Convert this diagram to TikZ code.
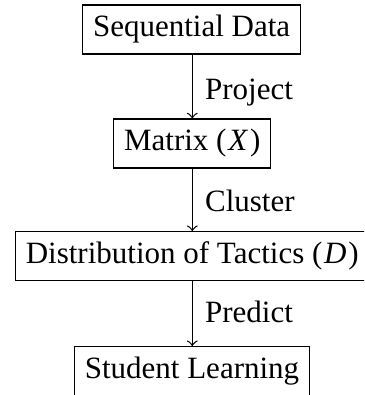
\documentclass[tikz,border=0pt]{standalone}
\usepackage{fontspec}
\setmainfont{Liberation Serif}
\newcommand{\mathvar}[1]{\kern0.6pt\textit{#1}\/\kern0.6pt}
\begin{document}
\begin{tikzpicture}[x=0.3226pt, y=-0.3226pt,
    stage/.style={draw, line width=0.4pt, inner sep=3.333pt},
    flow/.style={->, line width=0.4pt},
    steplabel/.style={anchor=base west, inner sep=0pt}]
  \useasboundingbox (0,0) rectangle (364,395);
  \clip (0,0) rectangle (364,395);

  % pipeline stages
  \node[stage] (data)   at (191.6, 29.5)  {Sequential Data};
  \node[stage] (matrix) at (192.3, 143.5) {Matrix (\mathvar{X})};
  \node[stage] (dist)   at (192.3, 256.3) {Distribution of Tactics (\mathvar{D})};
  \node[stage] (learn)  at (192.0, 371.2) {Student Learning};

  % connectors between stages
  \draw[flow] (data.south -| matrix.north) -- (matrix.north);
  \draw[flow] (matrix.south) -- (dist.north -| matrix.south);
  \draw[flow] (dist.south -| matrix.south) -- (learn.north -| matrix.south);

  % step labels
  \node[steplabel] (project) at (204.5, 99.3)  {Project};
  \node[steplabel] (cluster) at (204.5, 211.7) {Cluster};
  \node[steplabel] (predict) at (204.5, 322.3) {Predict};
\end{tikzpicture}
\end{document}
